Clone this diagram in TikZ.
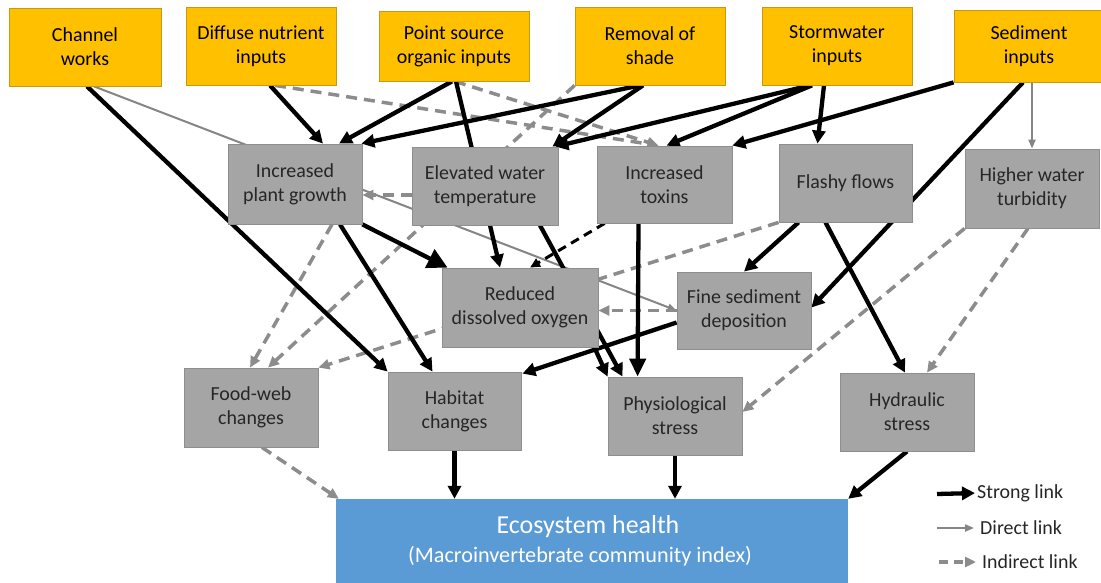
\documentclass[tikz,border=0pt]{standalone}
\usepackage{fontspec}
\setmainfont{Carlito}
\usetikzlibrary{arrows.meta,calc}
\pgfdeclarelayer{bg}
\pgfsetlayers{bg,main}
\definecolor{orng}{HTML}{FFC000}
\definecolor{orngb}{HTML}{C59A10}
\definecolor{gbox}{HTML}{A5A5A5}
\definecolor{gboxb}{HTML}{8E8E8E}
\definecolor{ebl}{HTML}{5B9BD5}
\definecolor{dgray}{HTML}{8C8C8C}
\definecolor{lgray}{HTML}{858585}
\definecolor{txt}{HTML}{262626}
\newcommand\boxfont{\fontsize{20}{24}\selectfont}
\begin{document}
\begin{tikzpicture}[x=1bp, y=-1bp,
  sz/.style 2 args={minimum width=#1bp, minimum height=#2bp},
  src/.style={draw=orngb, line width=0.8bp, fill=orng, text=black, align=center, inner sep=0pt, font=\boxfont},
  mid/.style={draw=gboxb, line width=0.8bp, fill=gbox, text=txt, align=center, inner sep=0pt, font=\boxfont},
  strong/.style={line width=4.3bp, black, -{Triangle[length=13bp,width=13bp]}},
  bighead/.style={-{Triangle[length=20bp,width=20bp]}},
  direct/.style={line width=2bp, lgray, -{Triangle[length=9bp,width=7bp]}},
  indirect/.style={line width=3.5bp, dgray, dash pattern=on 11bp off 7bp, -{Triangle[length=11bp,width=10bp]}},
  bdash/.style={line width=3bp, black, dash pattern=on 9bp off 6bp, -{Triangle[length=10bp,width=9bp]}},
  legtext/.style={text=txt, font=\boxfont, inner sep=0pt, anchor=west}
]
\useasboundingbox (0,0) rectangle (1101,583);

% sources
\node[src, sz={152}{78}] (chan) at (85,47) {Channel\\works};
\node[src, sz={150}{78}] (diff) at (261,46) {Diffuse nutrient\\inputs};
\node[src, sz={150}{70}] (point) at (454,46) {Point source\\organic inputs};
\node[src, sz={150}{78}] (shade) at (650,46) {Removal of\\shade};
\node[src, sz={150}{78}] (storm) at (837,46) {Stormwater\\inputs};
\node[src, sz={150}{72}] (sed) at (1029,46) {Sediment\\inputs};

% intermediate
\node[mid, sz={134}{80}] (plant) at (295,184) {Increased\\plant growth};
\node[mid, sz={146}{78}] (elev) at (485,186) {Elevated water\\temperature};
\node[mid, sz={135}{77}] (tox) at (664.5,184.5) {Increased\\toxins};
\node[mid, sz={133}{78}] (flash) at (845.5,183) {Flashy flows};
\node[mid, sz={134}{79}] (turb) at (1032,188.5) {Higher water\\turbidity};
\node[mid, sz={156}{79}] (rdo) at (520,307.5) {Reduced\\dissolved oxygen};
\node[mid, sz={134}{77}] (fine) at (744,310.5) {Fine sediment\\deposition};
\node[mid, sz={134}{79}] (food) at (251,407.5) {Food-web\\changes};
\node[mid, sz={133}{78}] (hab) at (454.5,411) {Habitat\\changes};
\node[mid, sz={134}{78}] (phys) at (675,416) {Physiological\\stress};
\node[mid, sz={134}{78}] (hyd) at (907,412) {Hydraulic\\stress};

% outcome
\node[fill=ebl, sz={512}{90}, inner sep=0pt] (eco) at (592,544) {};
\node[text=white, inner sep=0pt, font=\fontsize{26}{30}\selectfont] (ecot) at (588,527) {Ecosystem health};
\node[text=white, inner sep=0pt, font=\fontsize{22.3}{26}\selectfont] (ecos) at (580,556) {(Macroinvertebrate community index)};

\begin{pgfonlayer}{bg}
% direct links
\draw[direct] ($(chan.south)+(9,0)$) -- (fine.west);
\draw[direct] (turb.north |- sed.south) -- (turb.north);
% indirect links
\draw[indirect] ($(diff.south)+(14,0)$) -- ($(tox.north)+(-6,0)$);
\draw[indirect] ($(point.south)+(1,0)$) -- ($(tox.north)+(-6,0)$);
\draw[indirect] (shade.south west) -- ($(food.north)+(17,0)$);
\draw[indirect] ($(plant.south)+(37,0)$) -- ($(food.north)+(-1,0)$);
\draw[indirect] (flash.south west) -- (food.north east);
\draw[indirect] ($(elev.west)+(0,9)$) -- ($(plant.east)+(0,11)$);
\draw[indirect] (fine.west) -- (fine.west -| rdo.east);
\draw[indirect] ($(food.south)+(11,0)$) -- ($(eco.north west)+(3,0)$);
\draw[indirect] (turb.south west) -- ($(phys.east)+(0,-4)$);
\draw[indirect] ($(turb.south)+(-4,0)$) -- ($(hyd.north)+(20,0)$);
\draw[bdash] ($(tox.south west)+(8,0)$) -- ($(rdo.north)+(10,0)$);
% strong links
\draw[strong] ($(chan.south)+(2,0)$) -- (hab.north west);
\draw[strong] ($(diff.south)+(9,0)$) -- ($(plant.north)+(28,0)$);
\draw[strong] ($(point.south)+(-2,0)$) -- ($(plant.north)+(44,0)$);
\draw[strong] ($(point.south)+(2,0)$) -- ($(rdo.north)+(-20,0)$);
\draw[strong] ($(shade.south)+(-10,0)$) -- ($(plant.north east)+(-1,0)$);
\draw[strong] ($(shade.south)+(-7,0)$) -- ($(elev.north east)+(-6,0)$);
\draw[strong] ($(storm.south)+(-27,0)$) -- ($(elev.north east)+(-3,0)$);
\draw[strong] ($(storm.south)+(-25,0)$) -- ($(tox.north)+(2,0)$);
\draw[strong] ($(storm.south)+(-13,0)$) -- ($(flash.north)+(-28,0)$);
\draw[strong] (sed.south west) -- (tox.north east);
\draw[strong] ($(sed.south)+(-6,0)$) -- ($(fine.east)+(0,-3)$);
\draw[strong, bighead] (plant.south east) -- ($(rdo.north west)+(6,0)$);
\draw[strong] ($(plant.south)+(45,0)$) -- ($(hab.north)+(-22,0)$);
\draw[strong] ($(elev.south)+(55,0)$) -- ($(phys.north west)+(15,0)$);
\draw[strong, -{Triangle[length=18bp,width=16bp]}] ($(tox.south)+(-26,0)$) -- ($(phys.north west)+(30,0)$);
\draw[strong] ($(rdo.south east)+(-4,0)$) -- (phys.north west);
\draw[strong] ($(fine.west)+(0,12)$) -- ($(hab.north east)+(1,2)$);
\draw[strong] ($(flash.south)+(-47,0)$) -- (fine.north);
\draw[strong] ($(flash.south)+(-20,0)$) -- ($(hyd.north)+(-2,0)$);
\draw[strong] (hab.south) -- (hab.south |- eco.north);
\draw[strong] (phys.south) -- (phys.south |- eco.north);
\draw[strong] (hyd.south) -- (eco.north east);
\end{pgfonlayer}

% legend
\coordinate (ls) at (937,494);
\coordinate (ld) at (937,528);
\coordinate (li) at (939,562);
\node[legtext] (lstrong) at (977,493) {Strong link};
\node[legtext] (ldirect) at (980,528) {Direct link};
\node[legtext] (lindirect) at (982,562) {Indirect link};
\draw[strong, shorten >=2bp] (ls) -- (lstrong.west);
\draw[direct, shorten >=6bp] (ld) -- (ldirect.west);
\draw[indirect, dash pattern=on 9bp off 6bp, shorten >=6bp] (li) -- (lindirect.west);
\end{tikzpicture}
\end{document}
